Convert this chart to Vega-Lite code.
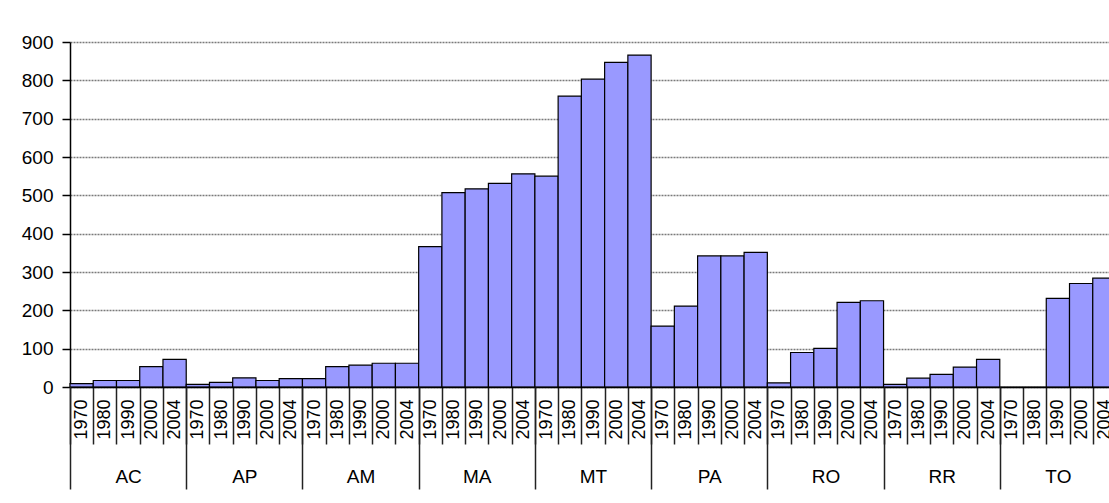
{
  "$schema": "https://vega.github.io/schema/vega-lite/v6.json",
  "autosize": "none",
  "width": 1039,
  "height": 345,
  "padding": {"left": 70, "top": 42, "right": 0, "bottom": 116},
  "background": "white",
  "config": {
    "view": {"stroke": null},
    "font": "Liberation Sans",
    "axis": {"labelFont": "Liberation Sans", "labelColor": "#000"}
  },
  "data": {
    "values": [
      {"state": "AC", "year": "1970", "value": 9},
      {"state": "AC", "year": "1980", "value": 17},
      {"state": "AC", "year": "1990", "value": 17},
      {"state": "AC", "year": "2000", "value": 53},
      {"state": "AC", "year": "2004", "value": 72},
      {"state": "AP", "year": "1970", "value": 7},
      {"state": "AP", "year": "1980", "value": 12},
      {"state": "AP", "year": "1990", "value": 24},
      {"state": "AP", "year": "2000", "value": 17},
      {"state": "AP", "year": "2004", "value": 22},
      {"state": "AM", "year": "1970", "value": 22},
      {"state": "AM", "year": "1980", "value": 53},
      {"state": "AM", "year": "1990", "value": 57},
      {"state": "AM", "year": "2000", "value": 62},
      {"state": "AM", "year": "2004", "value": 62},
      {"state": "MA", "year": "1970", "value": 366},
      {"state": "MA", "year": "1980", "value": 507},
      {"state": "MA", "year": "1990", "value": 517},
      {"state": "MA", "year": "2000", "value": 531},
      {"state": "MA", "year": "2004", "value": 556},
      {"state": "MT", "year": "1970", "value": 550},
      {"state": "MT", "year": "1980", "value": 759},
      {"state": "MT", "year": "1990", "value": 803},
      {"state": "MT", "year": "2000", "value": 847},
      {"state": "MT", "year": "2004", "value": 866},
      {"state": "PA", "year": "1970", "value": 159},
      {"state": "PA", "year": "1980", "value": 211},
      {"state": "PA", "year": "1990", "value": 342},
      {"state": "PA", "year": "2000", "value": 342},
      {"state": "PA", "year": "2004", "value": 351},
      {"state": "RO", "year": "1970", "value": 11},
      {"state": "RO", "year": "1980", "value": 90},
      {"state": "RO", "year": "1990", "value": 101},
      {"state": "RO", "year": "2000", "value": 221},
      {"state": "RO", "year": "2004", "value": 225},
      {"state": "RR", "year": "1970", "value": 7},
      {"state": "RR", "year": "1980", "value": 23},
      {"state": "RR", "year": "1990", "value": 33},
      {"state": "RR", "year": "2000", "value": 52},
      {"state": "RR", "year": "2004", "value": 72},
      {"state": "TO", "year": "1970", "value": 0},
      {"state": "TO", "year": "1980", "value": 0},
      {"state": "TO", "year": "1990", "value": 231},
      {"state": "TO", "year": "2000", "value": 270},
      {"state": "TO", "year": "2004", "value": 284}
    ]
  },
  "transform": [{"calculate": "datum.state + ' ' + datum.year", "as": "key"}],
  "layer": [
    {
      "mark": {"type": "bar", "fill": "#9999FF", "stroke": "#000", "strokeWidth": 1.2},
      "encoding": {
        "x": {
          "field": "key", "type": "nominal", "sort": null,
          "scale": {"range": [0, 1046], "paddingInner": 0, "paddingOuter": 0},
          "axis": {
            "title": null, "orient": "bottom", "domain": true, "domainColor": "#000", "domainWidth": 1.5,
            "ticks": true, "tickBand": "extent", "tickSize": 57, "tickColor": "#222", "tickWidth": 1.5,
            "labelAngle": 270, "labelAlign": "right", "labelBaseline": "middle", "labelPadding": -45,
            "labelFontSize": 18, "labelExpr": "split(datum.value, ' ')[1]", "grid": false,
            "labelOverlap": false, "zindex": 1
          }
        },
        "y": {
          "field": "value", "type": "quantitative",
          "scale": {"domain": [0, 900], "nice": false},
          "axis": {
            "title": null, "values": [0, 100, 200, 300, 400, 500, 600, 700, 800, 900],
            "grid": true, "gridColor": "#7a7a7a", "gridDash": [2, 1], "gridWidth": 1.3,
            "domainColor": "#000", "domainWidth": 1.5, "tickColor": "#000", "tickSize": 8, "tickWidth": 1.5,
            "labelPadding": 9, "labelFontSize": 19
          }
        }
      }
    },
    {
      "mark": {"type": "bar", "opacity": 0},
      "encoding": {
        "x": {
          "field": "state", "type": "nominal", "sort": null,
          "scale": {"range": [0, 1046], "paddingInner": 0, "paddingOuter": 0},
          "axis": {
            "title": null, "orient": "bottom", "domain": false,
            "ticks": true, "tickBand": "extent", "tickSize": 102, "tickColor": "#222", "tickWidth": 1.5,
            "labelAngle": 0, "labelAlign": "center", "labelBaseline": "middle", "labelPadding": -13,
            "labelFontSize": 19, "grid": false, "zindex": 1
          }
        }
      }
    }
  ],
  "resolve": {"scale": {"x": "independent"}, "axis": {"x": "independent"}}
}
